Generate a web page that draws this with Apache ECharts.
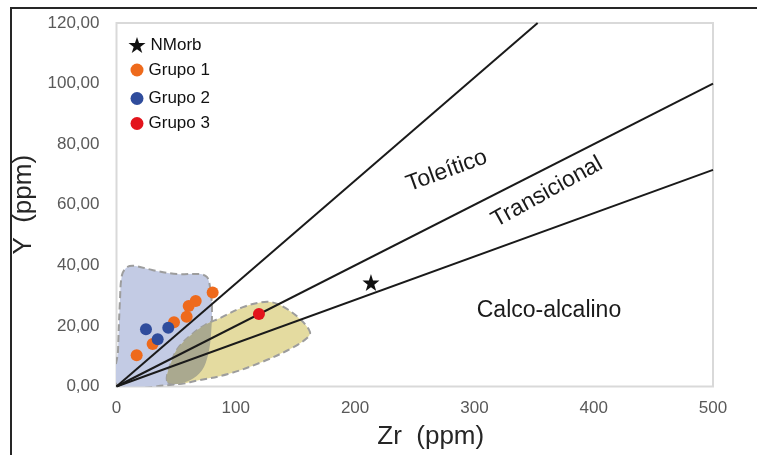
<!DOCTYPE html>
<html>
<head>
<meta charset="utf-8">
<script src="https://cdn.jsdelivr.net/npm/echarts@6/dist/echarts.min.js"></script>
<style>html,body{margin:0;padding:0;background:#fff}#c{width:757px;height:455px}</style>
</head>
<body>
<div id="c"></div>
<script>
// ---- data ----
const xTicks = [0, 100, 200, 300, 400, 500];
const yTicks = [0, 20, 40, 60, 80, 100, 120];
const nmorb = [[213.3, 34.3]];
const grupo1 = [[16.9, 10.3], [30.3, 14.0], [48.2, 21.2], [58.8, 23.0], [60.5, 26.6], [66.4, 28.2], [80.6, 31.0]];
const grupo2 = [[24.7, 18.9], [34.5, 15.6], [43.4, 19.4]];
const grupo3 = [[119.4, 23.9]];
const toleiticoLine = [[0, 0], [353, 120]];
const transicionalLine = [[0, 0], [500, 100]];
const calcoLine = [[0, 0], [500, 71.5]];
const blueField = [[0.5, 0.5], [1.3, 12.0], [2.9, 28.5], [4.6, 36.8], [8.8, 39.4], [15.5, 39.8], [30.6, 38.4], [50.7, 37.1], [70.0, 37.1], [75.9, 36.1], [78.4, 32.8], [80.0, 26.2], [79.2, 17.0], [76.7, 10.4], [71.7, 5.4], [61.6, 2.1], [44.8, 0.5]];
const yellowField = [[42.3, 1.8], [46.5, 8.7], [51.6, 12.7], [61.6, 16.7], [74.2, 20.3], [86.8, 22.6], [106.0, 26.2], [118.6, 27.6], [128.7, 27.9], [138.7, 26.6], [153.8, 22.3], [162.2, 18.0], [159.7, 16.0], [147.1, 12.7], [122.0, 8.1], [93.5, 4.1], [65.8, 1.8], [51.6, 0.8]];
const regionNames = ['Toleítico', 'Transicional', 'Calco-alcalino'];
const regionAnchors = [[276.8, 71.2], [360.9, 64.2], [362.5, 24.9]];

// ---- styles ----
const FONT = '"Liberation Sans", Arial, sans-serif';
const regionRotation = [20, 29, 0];
const starPath = 'path://M50,0 L61.8,35.1 L98.8,35.4 L69.1,57.5 L80.2,92.7 L50,71.3 L19.8,92.7 L30.9,57.5 L1.2,35.4 L38.2,35.1 Z';
const SMOOTH = 0.35;
const EDGE = {stroke: '#9d9d9d', lineWidth: 2, lineDash: [7, 4]};

const chart = echarts.init(document.getElementById('c'), null, {renderer: 'canvas'});

function boundary(name, data) {
  return {type: 'line', name: name, data: data, symbol: 'none', z: 3, silent: true,
    lineStyle: {color: '#1a1a1a', width: 2}};
}
function legendFor(name, icon, size, top) {
  return {
    data: [{name: name, icon: icon}], left: 137 - size / 2, top: top - 9, padding: 0,
    itemWidth: size, itemHeight: size, selectedMode: false,
    textStyle: {fontFamily: FONT, fontSize: 17, color: '#111', lineHeight: 18}
  };
}
const scatterStyle = c => ({color: c, opacity: 1});

chart.setOption({
  animation: false,
  backgroundColor: '#fff',
  grid: {left: 116.5, right: 44, top: 23, bottom: 68.5, show: true, borderColor: '#d9d9d9', borderWidth: 2},
  graphic: [{type: 'rect', shape: {x: 11, y: 8, width: 800, height: 520}, style: {fill: 'none', stroke: '#262626', lineWidth: 2}, silent: true}],
  legend: [
    legendFor('NMorb', starPath, 17, 45),
    legendFor('Grupo 1', 'circle', 13, 70),
    legendFor('Grupo 2', 'circle', 13, 98.5),
    legendFor('Grupo 3', 'circle', 13, 123.5)
  ],
  xAxis: {
    type: 'value', min: xTicks[0], max: xTicks[xTicks.length - 1], interval: 100,
    name: 'Zr  (ppm)', nameLocation: 'middle', nameGap: 37,
    nameTextStyle: {fontFamily: FONT, fontSize: 26, color: '#262626', padding: [0, 0, 0, 32]},
    axisLine: {show: false}, axisTick: {show: false}, splitLine: {show: false},
    axisLabel: {color: '#595959', fontFamily: FONT, fontSize: 17, margin: 13}
  },
  yAxis: {
    type: 'value', min: yTicks[0], max: yTicks[yTicks.length - 1], interval: 20,
    name: 'Y  (ppm)', nameLocation: 'middle', nameGap: 67,
    nameTextStyle: {fontFamily: FONT, fontSize: 26, color: '#262626'},
    axisLine: {show: false}, axisTick: {show: false}, splitLine: {show: false},
    axisLabel: {color: '#595959', fontFamily: FONT, fontSize: 17, margin: 17,
      formatter: v => v.toFixed(2).replace('.', ',')}
  },
  series: [
    {
      type: 'custom', name: 'fields', data: [[0, 0]], z: 1, silent: true, clip: true,
      encode: {x: 0, y: 1},
      renderItem: function (params, api) {
        const bp = blueField.map(p => api.coord(p));
        const yp = yellowField.map(p => api.coord(p));
        return {
          type: 'group',
          children: [
            {type: 'polygon', shape: {points: bp, smooth: SMOOTH}, style: Object.assign({fill: '#c3cbe4'}, EDGE)},
            {type: 'polygon', shape: {points: yp, smooth: SMOOTH}, style: Object.assign({fill: '#e4dba0'}, EDGE)},
            {type: 'polygon', shape: {points: bp, smooth: SMOOTH}, style: {fill: '#aaa98f'},
              clipPath: {type: 'polygon', shape: {points: yp, smooth: SMOOTH}}}
          ]
        };
      }
    },
    boundary('l1', toleiticoLine),
    boundary('l2', transicionalLine),
    boundary('l3', calcoLine),
    {
      type: 'custom', name: 'regions', data: regionAnchors, z: 4, silent: true,
      encode: {x: 0, y: 1},
      renderItem: function (params, api) {
        const p = api.coord([api.value(0), api.value(1)]);
        return {type: 'text', x: p[0], y: p[1], rotation: regionRotation[params.dataIndex] * Math.PI / 180,
          style: {text: regionNames[params.dataIndex], font: '23px ' + FONT, fill: '#1a1a1a', align: 'center', verticalAlign: 'middle'}};
      }
    },
    {type: 'scatter', name: 'NMorb', data: nmorb, symbol: starPath, symbolSize: 17, z: 5, itemStyle: scatterStyle('#111')},
    {type: 'scatter', name: 'Grupo 1', data: grupo1, symbol: 'circle', symbolSize: 12, z: 5, itemStyle: scatterStyle('#ee6a1c')},
    {type: 'scatter', name: 'Grupo 2', data: grupo2, symbol: 'circle', symbolSize: 12, z: 5, itemStyle: scatterStyle('#2f4c9c')},
    {type: 'scatter', name: 'Grupo 3', data: grupo3, symbol: 'circle', symbolSize: 12, z: 5, itemStyle: scatterStyle('#e3141c')}
  ]
});
</script>
</body>
</html>
